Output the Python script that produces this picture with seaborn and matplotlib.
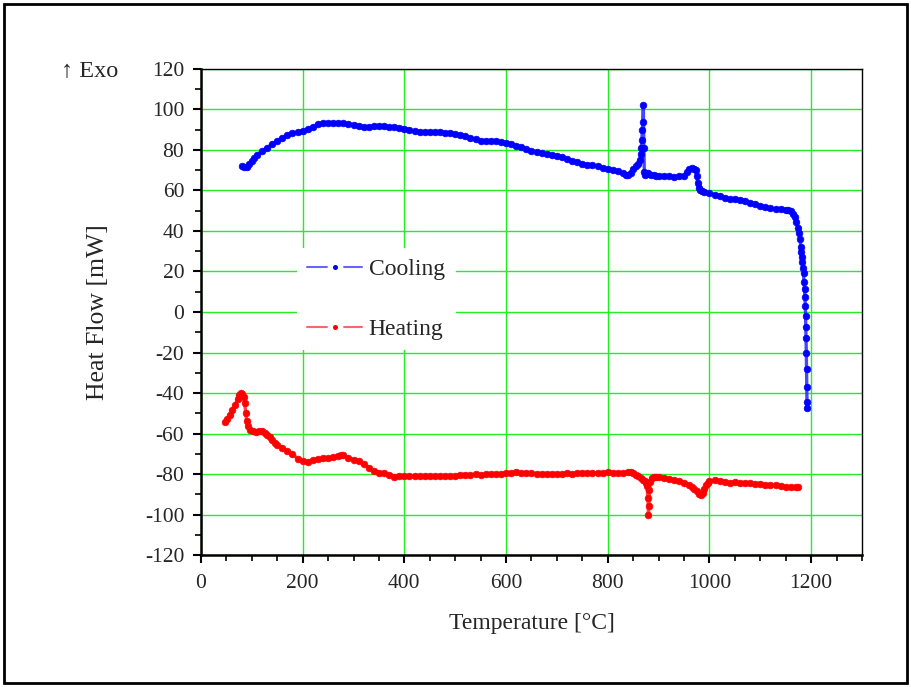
import matplotlib
matplotlib.use("Agg")
import matplotlib.pyplot as plt
from matplotlib.patches import Rectangle
from matplotlib.lines import Line2D
from matplotlib.ticker import MultipleLocator
import seaborn as sns
import pandas as pd

# DSC run: cooling and heating segments (temperature in °C, heat flow in mW)
cool_temp = [80, 85, 90, 95, 100, 105, 110, 120, 130, 140, 150, 160, 170, 180, 190,
             200, 210, 220, 230, 240, 250, 260, 270, 280, 290, 300, 310, 320, 330, 340,
             350, 360, 370, 380, 390, 400, 410, 420, 430, 440, 450, 460, 470, 480, 490,
             500, 510, 520, 530, 540, 550, 560, 570, 580, 590, 600, 610, 620, 630, 640,
             650, 660, 670, 680, 690, 700, 710, 720, 730, 740, 750, 760, 770, 780, 790,
             800, 810, 820, 830, 835, 840, 845, 850, 855, 860, 863, 865, 866, 867, 868,
             869, 870, 871, 872, 874, 877, 880, 885, 890, 895, 900, 910, 920, 930, 940,
             950, 955, 960, 965, 970, 973, 975, 977, 979, 981, 985, 990, 1000, 1010, 1020,
             1030, 1040, 1050, 1060, 1070, 1080, 1090, 1100, 1110, 1120, 1130, 1140, 1150,
             1155, 1160, 1165, 1168, 1171, 1174, 1176, 1178, 1180, 1181, 1182, 1183, 1184,
             1185, 1186, 1187, 1188, 1188.5, 1189, 1189.5, 1190, 1190.5, 1191, 1191.5,
             1192, 1192]
cool_flow = [72, 71.5, 71.5, 73, 74.5, 76, 77.5, 79.5, 81, 83, 84.5, 86, 87.5, 88.3, 88.8,
             89.3, 90.2, 91.5, 92.6, 93.1, 93.3, 93.3, 93.3, 93.2, 93.0, 92.4, 91.8, 91.2, 91.3, 91.7,
             91.8, 91.7, 91.5, 91.2, 91.0, 90.6, 90.0, 89.4, 88.8, 88.7, 89.0, 89.1, 88.9, 88.5, 88.2,
             87.8, 87.3, 86.7, 86.0, 85.2, 84.6, 84.5, 84.4, 84.2, 83.8, 83.4, 82.9, 82.2, 81.5, 80.6,
             79.7, 79.1, 78.7, 78.1, 77.5, 77.0, 76.4, 75.7, 74.8, 74.0, 73.2, 72.8, 72.4, 72.0, 71.3,
             70.6, 70.0, 69.4, 68.5, 67.8, 67.5, 68.5, 70.5, 72, 73, 75, 78, 81, 85, 90,
             94, 102, 81, 69, 67.5, 68, 68.5, 67.8, 67.6, 67.3, 67.2, 67.0, 67.0, 66.8, 67.0,
             67.3, 69, 70.5, 71, 70.5, 70, 67, 63.5, 61, 60, 59.6, 59.2, 58.6, 58, 57.3,
             56.5, 56, 55.6, 55.2, 54.6, 54, 53.3, 52.5, 51.8, 51.2, 51, 50.8, 50.6,
             50.4, 50, 48.5, 46.8, 44.5, 41.5, 39, 36, 32, 29.5, 27, 24.5, 21.7,
             19.3, 14.8, 11.4, 7.4, 3, -2, -7.4, -12.8, -20, -28, -37,
             -44.4, -47.4]

heat_temp = [47, 52, 57, 62, 67, 72, 75, 78, 81, 84, 86, 88, 90, 93, 97, 102, 108, 115, 120,
             125, 130, 135, 140, 145, 150, 160, 170, 180, 190, 200, 210, 220, 230, 240, 250,
             260, 270, 275, 280, 290, 300, 310, 320, 330, 340, 350, 360, 370, 380, 390, 400,
             410, 420, 430, 440, 450, 460, 470, 480, 490, 500, 510, 520, 530, 540, 550, 560,
             570, 580, 590, 600, 610, 620, 630, 640, 650, 660, 670, 680, 690, 700, 710, 720,
             730, 740, 750, 760, 770, 780, 790, 800, 810, 820, 830, 840, 845, 850, 855, 860,
             865, 870, 873, 875, 877, 879, 880, 881, 882, 884, 887, 890, 895, 900, 910, 920,
             930, 940, 950, 960, 965, 970, 975, 980, 984, 987, 990, 993, 997, 1000, 1010,
             1020, 1030, 1040, 1050, 1060, 1070, 1080, 1090, 1100, 1110, 1120, 1130, 1140,
             1150, 1160, 1170, 1175]
heat_flow = [-54.5, -53, -51, -48.5, -46, -43, -41, -40, -40.5, -42, -45, -50, -54, -56.5, -58.5,
             -59, -59.3, -58.8, -59, -59.8, -60.5, -61.5, -63, -64.5, -65.5, -67, -68.5, -70,
             -72.5, -73.8, -74, -73, -72.5, -72.3, -72.3, -71.8, -71, -70.5, -70.8, -72, -73,
             -73.8, -75, -76.8, -78.5, -79.3, -79.6, -80.3, -81.3, -81.2, -80.8, -80.8, -81,
             -81, -81, -81.2, -80.8, -81, -81, -81.1, -80.8, -80.6, -80.3, -80.4, -80.2, -80.3,
             -80.2, -80.0, -80.0, -79.8, -79.5, -79.3, -79.2, -79.4, -79.5, -79.7, -79.8, -79.8,
             -79.9, -79.8, -79.8, -79.8, -79.6, -79.8, -79.6, -79.6, -79.5, -79.4, -79.3, -79.4,
             -79.2, -79.3, -79.4, -79.3, -79.1, -79.0, -79.5, -80.5, -81, -82, -82.8, -83.5,
             -84.5, -86, -92, -100, -96, -88, -84, -82, -81.3, -81.3, -81.5, -82, -82.5, -83.2,
             -83.5, -84.2, -85.5, -86.5, -87.5, -88.5, -89.7, -90.2, -89.5, -87.5, -85.5, -84.3,
             -83.6, -83.2, -83.3, -84, -84.2, -83.8, -84.3, -84.5, -84.5, -84.8, -85, -85.3,
             -85.4, -85.6, -85.8, -86.2, -86.4, -86.6, -86.6]

x_ticks = [0, 200, 400, 600, 800, 1000, 1200]
y_ticks = [-120, -100, -80, -60, -40, -20, 0, 20, 40, 60, 80, 100, 120]

sns.set_style("white")
serif = ["Liberation Serif", "DejaVu Serif"]
plt.rcParams["font.family"] = serif

fig = plt.figure(figsize=(9.11, 6.87), dpi=100)
ax = fig.add_axes([0.2206, 0.1921, 0.7256, 0.7075])

cool = pd.DataFrame({"T": cool_temp, "HF": cool_flow})
heat = pd.DataFrame({"T": heat_temp, "HF": heat_flow})

sns.lineplot(data=cool, x="T", y="HF", ax=ax, sort=False, estimator=None,
             color=(0.15, 0.15, 1.0, 0.85), linewidth=2.4, marker="o", markersize=4.8,
             markerfacecolor="#0000ff", markeredgecolor="#0000ff", markeredgewidth=0.5,
             legend=False, zorder=3)
sns.lineplot(data=heat, x="T", y="HF", ax=ax, sort=False, estimator=None,
             color=(1.0, 0.15, 0.15, 0.85), linewidth=2.4, marker="o", markersize=4.8,
             markerfacecolor="#ff0000", markeredgecolor="#ff0000", markeredgewidth=0.5,
             legend=False, zorder=3)

ax.set_xlim(0, 1300)
ax.set_ylim(-120, 120)
ax.set_xticks(x_ticks)
ax.set_yticks(y_ticks)
ax.set_yticklabels([str(v) for v in y_ticks])
ax.xaxis.set_minor_locator(MultipleLocator(50))
ax.yaxis.set_minor_locator(MultipleLocator(10))

ax.grid(True, which="major", color="#22ee22", linewidth=1.0)
ax.set_axisbelow(True)

for side in ("left", "bottom"):
    ax.spines[side].set_linewidth(1.8)
    ax.spines[side].set_color("black")
for side in ("top", "right"):
    ax.spines[side].set_linewidth(1.0)
    ax.spines[side].set_color("black")

ax.tick_params(axis="both", which="major", direction="out", length=6, width=1.5,
               labelsize=15.5, color="black", bottom=True, left=True, top=False, right=False)
ax.tick_params(axis="both", which="minor", direction="out", length=4, width=1.2,
               color="black", bottom=True, left=True, top=False, right=False)
ax.tick_params(axis="x", which="major", pad=8)
ax.tick_params(axis="y", which="major", pad=6)

ax.set_xlabel("Temperature [°C]", fontsize=17, labelpad=14)
ax.set_ylabel("Heat Flow [mW]", fontsize=18.5, labelpad=26)

fig.text(61 / 911, 1 - 72 / 687, "↑ Exo", fontsize=17.5, ha="left", va="center",
         family=serif)

# legend keys: light line, dark dot with a white gap around it
handles = [
    Line2D([], [], color=(0.4, 0.4, 1.0), linewidth=1.5, marker="o", markersize=7.5,
           markerfacecolor="#0000ff", markeredgecolor="white", markeredgewidth=3.8),
    Line2D([], [], color=(1.0, 0.4, 0.4), linewidth=1.5, marker="o", markersize=7.5,
           markerfacecolor="#ff0000", markeredgecolor="white", markeredgewidth=3.8),
]
leg = ax.legend(handles, ["Cooling", "Heating"], loc="upper left",
                bbox_to_anchor=(0.145, 0.632), borderaxespad=0,
                fontsize=17, handlelength=2.3, labelspacing=1.62, handletextpad=0.3,
                borderpad=0.45, frameon=True, fancybox=False)
leg.get_frame().set_facecolor("white")
leg.get_frame().set_edgecolor("none")
leg.get_frame().set_alpha(1.0)

fig.patches.append(Rectangle((4 / 911, 4 / 687), 903 / 911, 679 / 687,
                             transform=fig.transFigure, fill=False,
                             edgecolor="black", linewidth=2))

fig.savefig("out.png", dpi=100)
